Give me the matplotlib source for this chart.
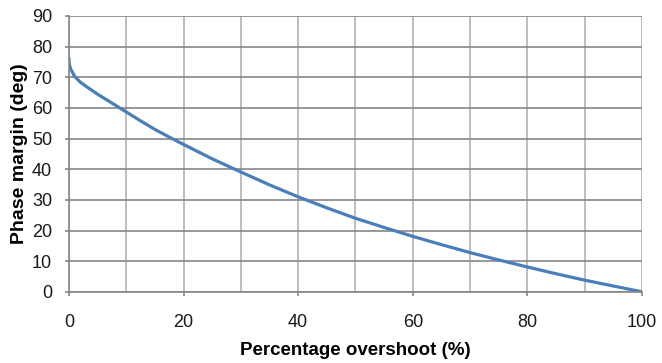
import matplotlib.pyplot as plt

# values
overshoot = [0, 0.05, 0.3, 1, 2, 3.5, 5, 7.5, 10, 12.5, 15, 17.5, 20, 25, 30, 35,
             40, 45, 50, 55, 60, 65, 70, 75, 80, 85, 90, 95, 100]
phase_margin = [76.5, 74.5, 72.8, 70.3, 68.4, 66.4, 64.5, 61.6, 58.7, 55.8, 53.0,
                50.5, 48.1, 43.4, 39.1, 34.9, 31.0, 27.4, 24.0, 21.0, 18.1, 15.4,
                12.8, 10.4, 8.1, 5.9, 3.8, 1.9, 0.0]

plt.rcParams['font.family'] = ['Liberation Sans', 'DejaVu Sans']

fig = plt.figure(figsize=(6.62, 3.63), dpi=100)
ax = fig.add_axes([0.104, 0.196, 0.866, 0.760])

ax.plot(overshoot, phase_margin, color='#4a7ebb', linewidth=2.3, solid_capstyle='butt')

ax.set_xlim(0, 100)
ax.set_ylim(0, 90)
ax.set_xticks(range(0, 101, 20))
ax.set_xticks(range(0, 101, 10), minor=True)
ax.set_yticks(range(0, 91, 10))

# gridlines: darker horizontal, lighter vertical
ax.grid(axis='y', which='major', color='#868686', linewidth=1.2)
ax.grid(axis='x', which='both', color='#b3b3b3', linewidth=1.2)
ax.set_axisbelow(True)

for s in ['top', 'right']:
    ax.spines[s].set_visible(False)
ax.spines['left'].set_color('#868686')
ax.spines['bottom'].set_color('#868686')
ax.spines['left'].set_linewidth(1.2)
ax.spines['bottom'].set_linewidth(1.2)

ax.tick_params(axis='both', which='major', length=3, width=1.2, color='#868686',
               labelsize=13, labelcolor='#1a1a1a')
ax.tick_params(axis='x', which='minor', length=0)
ax.tick_params(axis='x', pad=13)
ax.tick_params(axis='y', pad=9)

ax.set_xlabel('Percentage overshoot (%)', fontsize=13.5, fontweight='bold', labelpad=8)
ax.set_ylabel('Phase margin (deg)', fontsize=14, fontweight='bold', labelpad=3)

fig.savefig('out.png', dpi=100)
